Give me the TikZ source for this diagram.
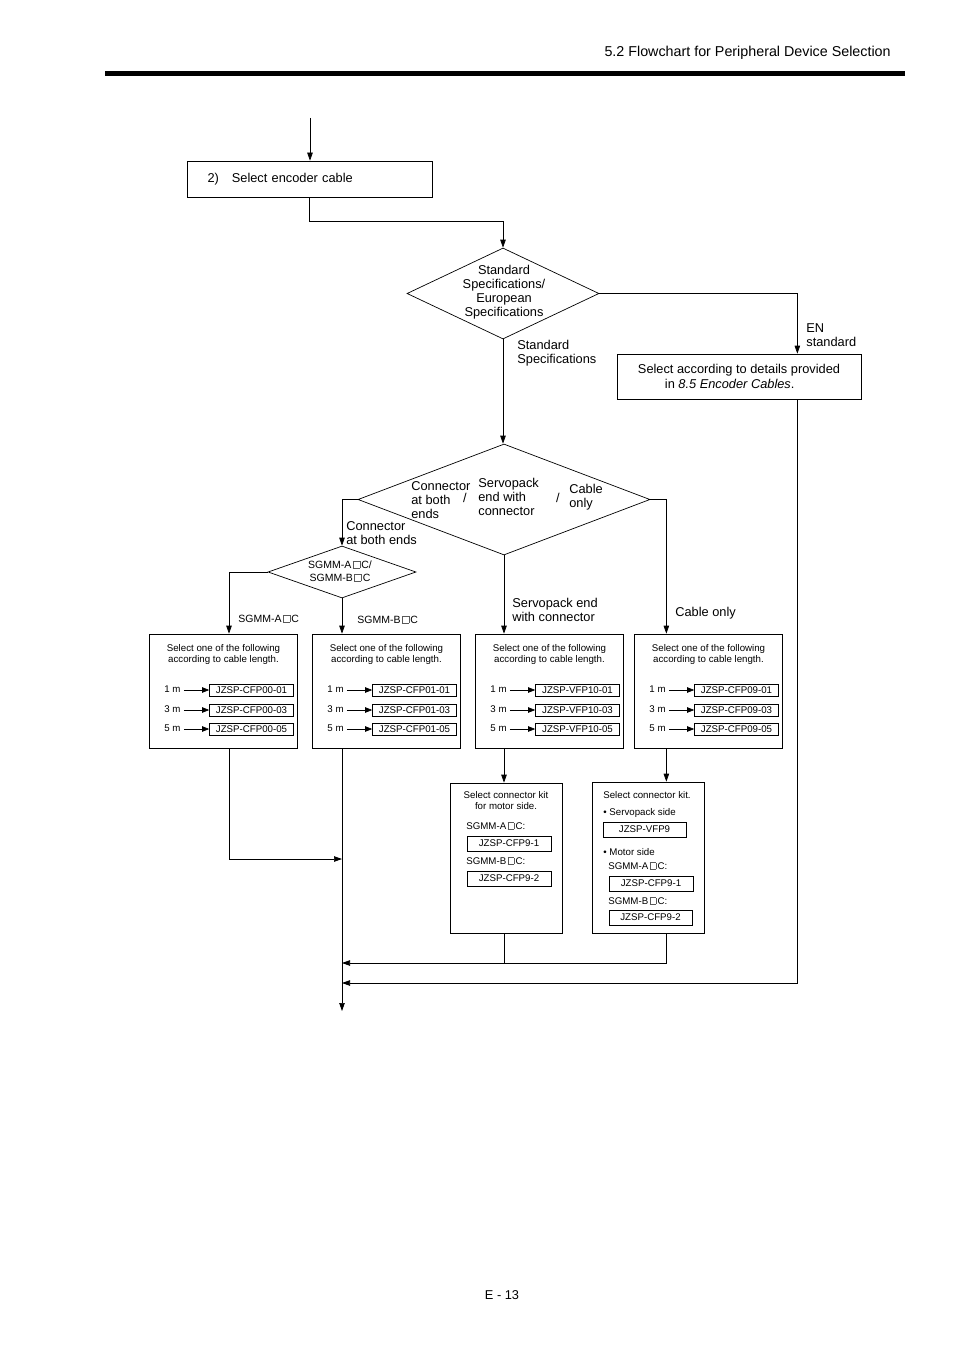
\documentclass[tikz,border=0pt]{standalone}
\usepackage{fontspec}
\setmainfont{Liberation Sans}
\usepackage{tikz}
\usetikzlibrary{shapes.geometric,arrows.meta,positioning}
\newcommand\sqbox{\kern1.3pt{\color{black!65}\fboxsep=0pt\fboxrule=0.3pt\fbox{\vrule width0pt height0.68em\hspace{0.64em}}}\kern1.3pt}
\newcommand\mainsize{\fontsize{12.8}{14}\selectfont}
\newcommand\midsize{\fontsize{10.5}{13}\selectfont}
\newcommand\smallsize{\fontsize{9.7}{11}\selectfont}

\begin{document}
\begin{tikzpicture}[
        x=1pt, y=-1pt, line width=0.7pt,
        >={Triangle[length=8pt,width=5.5pt]},
        font=\mainsize,
        box/.style={draw, rectangle, inner sep=0pt},
        dec/.style={draw, diamond, inner sep=0pt},
        lbl/.style={inner sep=0pt, align=left},
        selbox/.style={box, minimum width=148pt, minimum height=114pt},
        kitbox/.style={box, minimum width=112pt, minimum height=150pt},
        part/.style={box, font=\smallsize, minimum width=84pt, minimum height=12pt},
        arrow/.style={->},
        lenarrow/.style={-{Triangle[length=7pt,width=5.5pt]}, line width=0.6pt}
    ]
        \useasboundingbox (0,0) rectangle (954,1351);

        % page head and foot
        \node[anchor=east, inner sep=0pt, font=\fontsize{14.3}{16}\selectfont] (hdr) at (891,53) {5.2 Flowchart for Peripheral Device Selection};
        \draw[line width=5pt] (105,74) -- (905,74);
        \node[inner sep=0pt] (pgno) at (502,1295) {E - 13};

        % encoder cable
        \coordinate (in) at (310,118);
        \node[box, align=left, inner xsep=20.5pt, text width=204pt, minimum height=36pt] (enc) at (309.5,179) {2)\hspace{13pt}Select encoder cable};
        \draw[arrow] (in) -- (in |- enc.north);

        % standard / european
        \node[dec, minimum width=192pt, minimum height=91pt] (spec) at (503,293.5) {};
        \node[lbl, align=center] (specT) at (504,292.5) {Standard\\Specifications/\\European\\Specifications};
        \draw[arrow] (enc.south) -- ++(0,24) -| (spec.north);

        \node[box, align=left, inner xsep=21pt, minimum height=45pt] (en) at (739,376.5) {Select according to details provided\\[1pt]\hspace*{27pt}in \textit{8.5 Encoder Cables}.};
        \draw[arrow] (spec.east) -- ++(198,0) coordinate (enturn) -- (enturn |- en.north);
        \node[lbl, anchor=west] (enL) at (806,335) {EN\\standard};

        % cable type
        \node[dec, minimum width=292pt, minimum height=111pt] (kind) at (504,499.5) {};
        \draw[arrow] (spec.south) -- (spec.south |- kind.north);
        \node[lbl, anchor=west] (stdL) at (517,353.5) {Standard\\Specifications};
        \node[lbl, anchor=west] (kindA) at (411,500) {Connector\\at both\\ends};
        \node[inner sep=0pt] (sl1) at (465,497.5) {/};
        \node[lbl, anchor=west] (kindB) at (478,497) {Servopack\\end with\\connector};
        \node[inner sep=0pt] (sl2) at (558,497.5) {/};
        \node[lbl, anchor=west] (kindC) at (569,497.5) {Cable\\only};

        % motor type
        \node[dec, minimum width=148pt, minimum height=52pt] (motor) at (342,572) {};
        \node[lbl, align=center, font=\midsize] (motorT) at (340,571) {SGMM-A\sqbox C/\\SGMM-B\sqbox C};
        \draw[arrow] (kind.west) -| (motor.north);
        \node[lbl, anchor=west] (bothL) at (346,533) {Connector\\at both ends};

        % cable length boxes
        \foreach \nm/\cx/\code in {A/223.5/CFP00, B/386.5/CFP01, C/549.5/VFP10, D/708.5/CFP09} {
            \node[selbox] (sel\nm) at (\cx,691) {};
            \node[lbl, align=center, font=\smallsize] (hd\nm) at (\cx,654.5) {Select one of the following\\according to cable length.};
            \pgfmathsetmacro\px{\cx+28}
            \pgfmathsetmacro\lx{\cx-51}
            \foreach \len/\yy in {1/690,3/710,5/729} {
                \node[part] (p\nm\len) at (\px,\yy) {JZSP-\code-0\len};
                \node[inner sep=1pt, font=\smallsize] (m\nm\len) at (\lx,\yy-0.5) {\len\ m};
                \draw[lenarrow] (m\nm\len.east |- p\nm\len) ++(2,0) -- (p\nm\len.west);
            }
        }

        \draw[arrow] (motor.west) -| ([xshift=5.5pt]selA.north);
        \node[lbl, anchor=west, font=\midsize] (aL) at (238,618.5) {SGMM-A\sqbox C};
        \draw[arrow] (motor.south) -- (motor.south |- selB.north);
        \node[lbl, anchor=west, font=\midsize] (bL) at (357,619.5) {SGMM-B\sqbox C};
        \draw[arrow] (kind.south) -- (kind.south |- selC.north);
        \node[lbl, anchor=west] (spL) at (512,610) {Servopack end\\with connector};
        \draw[arrow] (kind.east) -- ++(16,0) coordinate (dturn) -- (dturn |- selD.north);
        \node[lbl, anchor=west] (coL) at (675,613) {Cable only};

        % connector kits
        \node[kitbox] (kitC) at (506,858) {};
        \node[lbl, align=center, font=\smallsize] (kitCT) at (506,800.5) {Select connector kit\\for motor side.};
        \node[lbl, anchor=west, font=\smallsize] (kcA) at (466,826) {SGMM-A\sqbox C:};
        \node[part, minimum height=15pt] (kcA1) at (509,843.5) {JZSP-CFP9-1};
        \node[lbl, anchor=west, font=\smallsize] (kcB) at (466,861) {SGMM-B\sqbox C:};
        \node[part, minimum height=15pt] (kcB1) at (509,878.5) {JZSP-CFP9-2};

        \node[kitbox, minimum height=151pt] (kitD) at (648,857.5) {};
        \node[lbl, anchor=west, font=\smallsize] (kitDT) at (603,795) {Select connector kit.};
        \node[lbl, anchor=west, font=\smallsize] (kdS) at (603,813) {\textbullet\ Servopack side};
        \node[part, minimum width=83pt, minimum height=15pt] (kdS1) at (644.5,829.5) {JZSP-VFP9};
        \node[lbl, anchor=west, font=\smallsize] (kdM) at (603,852) {\textbullet\ Motor side};
        \node[lbl, anchor=west, font=\smallsize] (kdA) at (608,866) {SGMM-A\sqbox C:};
        \node[part, minimum height=15pt] (kdA1) at (651,883.5) {JZSP-CFP9-1};
        \node[lbl, anchor=west, font=\smallsize] (kdB) at (608,901) {SGMM-B\sqbox C:};
        \node[part, minimum width=83pt, minimum height=15pt] (kdB1) at (650.5,917.5) {JZSP-CFP9-2};

        \draw[arrow] (kind.south |- selC.south) -- (kind.south |- kitC.north);
        \draw[arrow] (dturn |- selD.south) -- (dturn |- kitD.north);

        % joins into the trunk
        \coordinate (j1) at (342,859);
        \coordinate (j2) at (342,963);
        \coordinate (j3) at (342,983);
        \coordinate (out) at (342,1011);
        \draw[arrow] (motor.south |- selB.south) -- (out);
        \draw[arrow] ([xshift=5.5pt]selA.south) |- (j1);
        \draw (kind.south |- kitC.south) -- (kind.south |- j2);
        \draw[arrow] (dturn |- kitD.south) |- (j2);
        \draw[arrow] (enturn |- en.south) |- (j3);
    \end{tikzpicture}
\end{document}
